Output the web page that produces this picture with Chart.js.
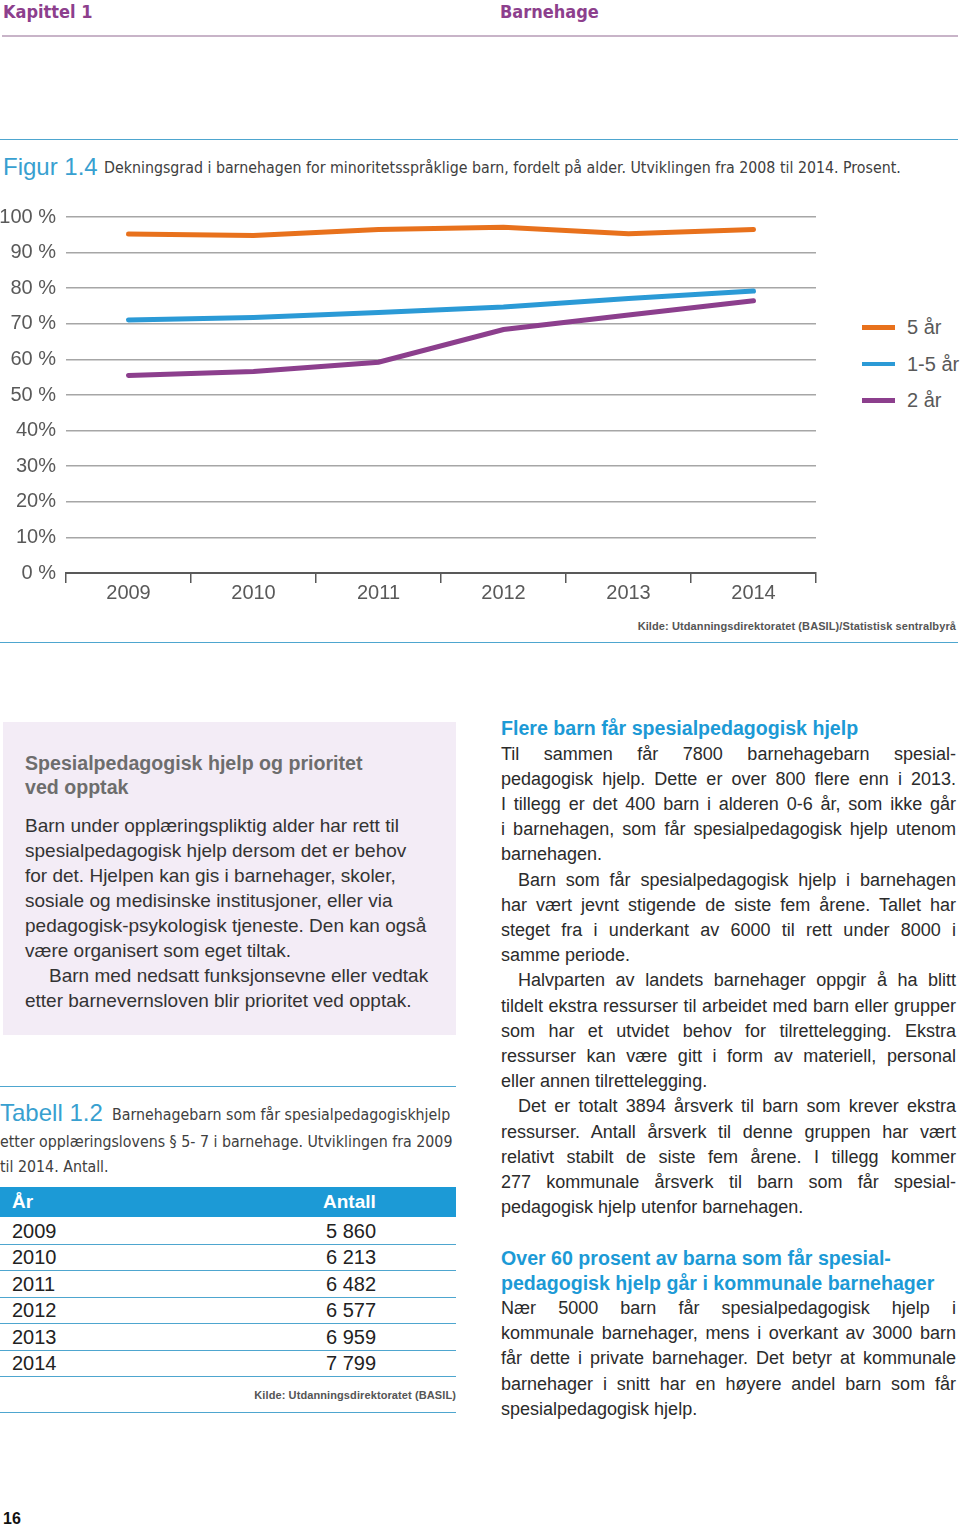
<!DOCTYPE html>
<html>
<head>
<meta charset="utf-8">
<script src="https://cdn.jsdelivr.net/npm/chart.js@4.4.1/dist/chart.umd.min.js"></script>
<style>
  body { margin: 0; width: 960px; height: 1527px; position: relative; background: #fff; overflow: hidden;
         font-family: "Liberation Sans", Arial, sans-serif; color: #2e2e2e; }
  .a { position: absolute; white-space: nowrap; }
  .narrow { font-family: "Liberation Sans Narrow", "DejaVu Sans Condensed", sans-serif; font-stretch: condensed; }
  .rule { position: absolute; height: 0; }
  .col { position: absolute; left: 501px; top: 716.4px; width: 455px; font-size: 18px; line-height: 25.2px; color: #2b2b2b; }
  .col div { white-space: nowrap; }
  .col .j { text-align: justify; text-align-last: justify; white-space: normal; }
  .col .h { color: #1c9ad6; font-weight: bold; font-size: 19.6px; }
  .col .in { text-indent: 17px; }
  .src { font-size: 11px; font-weight: bold; color: #555; letter-spacing: 0.1px; }
</style>
</head>
<body>

<div class="a narrow" style="left:3px;top:0;line-height:24px;font-size:18px;font-weight:bold;color:#8d3f8d">Kapittel 1</div>
<div class="a narrow" style="left:500px;top:0;line-height:24px;font-size:18px;font-weight:bold;color:#8d3f8d">Barnehage</div>
<div class="rule" style="left:2px;top:35px;width:956px;border-top:2px solid #c8b4c8"></div>

<div class="rule" style="left:0;top:139px;width:958px;border-top:1.5px solid #4ea6cf"></div>
<div class="a" style="left:3px;top:153px;line-height:28px;font-size:24px;color:#38a0d0">Figur 1.4</div>
<div class="a narrow" style="left:104px;top:157px;line-height:22px;font-size:15.8px;color:#404040">Dekningsgrad i barnehagen for minoritetsspråklige barn, fordelt på alder. Utviklingen fra 2008 til 2014. Prosent.</div>

<div class="a" style="left:0;top:195px;width:830px;height:418px">
  <canvas id="chart" width="830" height="418"></canvas>
</div>
<div id="legend"></div>

<div class="a src" style="right:4px;top:618px;line-height:16px">Kilde: Utdanningsdirektoratet (BASIL)/Statistisk sentralbyrå</div>
<div class="rule" style="left:0;top:642px;width:958px;border-top:1.5px solid #4ea6cf"></div>

<div class="a" style="left:3px;top:722px;width:453px;height:313px;background:#f3ecf6"></div>
<div class="a" style="left:25px;top:751px;line-height:24px;font-size:19.6px;font-weight:bold;color:#6d6d6d">Spesialpedagogisk hjelp og prioritet<br>ved opptak</div>
<div class="a" style="left:25px;top:812.5px;line-height:25px;font-size:19px;color:#333">Barn under opplæringspliktig alder har rett til<br>spesialpedagogisk hjelp dersom det er behov<br>for det. Hjelpen kan gis i barnehager, skoler,<br>sosiale og medisinske institusjoner, eller via<br>pedagogisk-psykologisk tjeneste. Den kan også<br>være organisert som eget tiltak.<br><span style="padding-left:24px">Barn med nedsatt funksjonsevne eller vedtak</span><br>etter barnevernsloven blir prioritet ved opptak.</div>

<div class="rule" style="left:0;top:1086px;width:456px;border-top:1.5px solid #4ea6cf"></div>
<div class="a" style="left:0;top:1099px;line-height:28px;font-size:24px;color:#38a0d0">Tabell 1.2</div>
<div class="a narrow" style="left:112px;top:1104px;line-height:22px;font-size:15.8px;color:#404040">Barnehagebarn som får spesialpedagogiskhjelp</div>
<div class="a narrow" style="left:0;top:1129px;line-height:25px;font-size:15.8px;color:#404040">etter opplæringslovens § 5- 7 i barnehage. Utviklingen fra 2009<br>til 2014. Antall.</div>
<div id="table"></div>
<div class="a src" style="right:504px;top:1387px;line-height:16px">Kilde: Utdanningsdirektoratet (BASIL)</div>
<div class="rule" style="left:0;top:1412px;width:456px;border-top:1.5px solid #4ea6cf"></div>

<div class="col">
  <div class="h">Flere barn får spesialpedagogisk hjelp</div>
  <div class="j">Til sammen får 7800 barnehagebarn spesial-</div>
  <div class="j">pedagogisk hjelp. Dette er over 800 flere enn i 2013.</div>
  <div class="j">I tillegg er det 400 barn i alderen 0-6 år, som ikke går</div>
  <div class="j">i barnehagen, som får spesialpedagogisk hjelp utenom</div>
  <div>barnehagen.</div>
  <div class="j in">Barn som får spesialpedagogisk hjelp i barnehagen</div>
  <div class="j">har vært jevnt stigende de siste fem årene. Tallet har</div>
  <div class="j">steget fra i underkant av 6000 til rett under 8000 i</div>
  <div>samme periode.</div>
  <div class="j in">Halvparten av landets barnehager oppgir å ha blitt</div>
  <div class="j">tildelt ekstra ressurser til arbeidet med barn eller grupper</div>
  <div class="j">som har et utvidet behov for tilrettelegging. Ekstra</div>
  <div class="j">ressurser kan være gitt i form av materiell, personal</div>
  <div>eller annen tilrettelegging.</div>
  <div class="j in">Det er totalt 3894 årsverk til barn som krever ekstra</div>
  <div class="j">ressurser. Antall årsverk til denne gruppen har vært</div>
  <div class="j">relativt stabilt de siste fem årene. I tillegg kommer</div>
  <div class="j">277 kommunale årsverk til barn som får spesial-</div>
  <div>pedagogisk hjelp utenfor barnehagen.</div>
  <div>&nbsp;</div>
  <div class="h">Over 60 prosent av barna som får spesial-</div>
  <div class="h">pedagogisk hjelp går i kommunale barnehager</div>
  <div class="j">Nær 5000 barn får spesialpedagogisk hjelp i</div>
  <div class="j">kommunale barnehager, mens i overkant av 3000 barn</div>
  <div class="j">får dette i private barnehager. Det betyr at kommunale</div>
  <div class="j">barnehager i snitt har en høyere andel barn som får</div>
  <div>spesialpedagogisk hjelp.</div>
</div>

<div class="a" style="left:3px;top:1509px;line-height:20px;font-size:16px;font-weight:bold;color:#111">16</div>

<script>
// figure 1.4 data (percent)
const years = ['2009', '2010', '2011', '2012', '2013', '2014'];
const fiveYears = [95.2, 94.8, 96.5, 97.1, 95.3, 96.5];
const oneToFiveYears = [71.1, 71.8, 73.2, 74.7, 77.1, 79.2];
const twoYears = [55.5, 56.6, 59.2, 68.4, 72.5, 76.5];
const seriesNames = ['5 år', '1-5 år', '2 år'];
const seriesColors = ['#e8711c', '#2b9ad6', '#8c3f8d'];
const yTickLabels = ['0 %', '10%', '20%', '30%', '40%', '50 %', '60 %', '70 %', '80 %', '90 %', '100 %'];

// tabell 1.2 data
const tableHeader = ['År', 'Antall'];
const tableYears = ['2009', '2010', '2011', '2012', '2013', '2014'];
const tableCounts = ['5 860', '6 213', '6 482', '6 577', '6 959', '7 799'];

const seriesData = [fiveYears, oneToFiveYears, twoYears];

new Chart(document.getElementById('chart').getContext('2d'), {
  type: 'line',
  data: {
    labels: years,
    datasets: seriesData.map((d, i) => ({
      label: seriesNames[i],
      data: d,
      borderColor: seriesColors[i],
      backgroundColor: seriesColors[i],
      borderWidth: 5,
      pointRadius: 0,
      tension: 0,
      borderCapStyle: 'round'
    }))
  },
  options: {
    responsive: false,
    animation: false,
    layout: { padding: { top: 19, right: 14, left: 0, bottom: 0 } },
    plugins: { legend: { display: false }, tooltip: { enabled: false } },
    scales: {
      x: {
        offset: true,
        grid: { display: true, offset: true, drawOnChartArea: false, drawTicks: true, tickLength: 10, color: '#595959', lineWidth: 1.5 },
        border: { display: true, color: '#595959', width: 2 },
        ticks: { color: '#595959', font: { family: 'Liberation Sans', size: 20 }, padding: -2 },
        afterFit: s => { s.height = 40; }
      },
      y: {
        min: 0,
        max: 100,
        grid: { color: '#a6a6a6', lineWidth: 1.5, drawTicks: false },
        border: { display: false },
        ticks: {
          stepSize: 10,
          color: '#595959',
          padding: 10,
          font: { family: 'Liberation Sans', size: 20 },
          callback: (v, i) => yTickLabels[i]
        },
        afterFit: s => { s.width = 66; }
      }
    }
  }
});

// legend
const legend = document.getElementById('legend');
seriesNames.forEach((name, i) => {
  const cy = 327 + i * 36.5;
  legend.insertAdjacentHTML('beforeend',
    `<div class="a" style="left:862px;top:${cy - 2}px;width:33px;height:4.5px;background:${seriesColors[i]}"></div>` +
    `<div class="a" style="left:907px;top:${cy - 12}px;line-height:24px;font-size:20px;color:#595959">${name}</div>`);
});

// table
const table = document.getElementById('table');
table.insertAdjacentHTML('beforeend',
  `<div class="a" style="left:0;top:1187px;width:456px;height:30px;background:#1c9ad6"></div>` +
  `<div class="a" style="left:12px;top:1190px;line-height:24px;font-size:19px;font-weight:bold;color:#fff">${tableHeader[0]}</div>` +
  `<div class="a" style="left:323px;top:1190px;line-height:24px;font-size:19px;font-weight:bold;color:#fff">${tableHeader[1]}</div>`);
tableYears.forEach((yr, i) => {
  const top = 1217.5 + i * 26.5;
  table.insertAdjacentHTML('beforeend',
    `<div class="a" style="left:12px;top:${top}px;line-height:26px;font-size:20px;color:#222">${yr}</div>` +
    `<div class="a" style="left:326px;top:${top}px;line-height:26px;font-size:20px;color:#222">${tableCounts[i]}</div>` +
    `<div class="rule" style="left:0;top:${top + 26}px;width:456px;border-top:1.5px solid #4ea6cf"></div>`);
});
</script>
</body>
</html>
